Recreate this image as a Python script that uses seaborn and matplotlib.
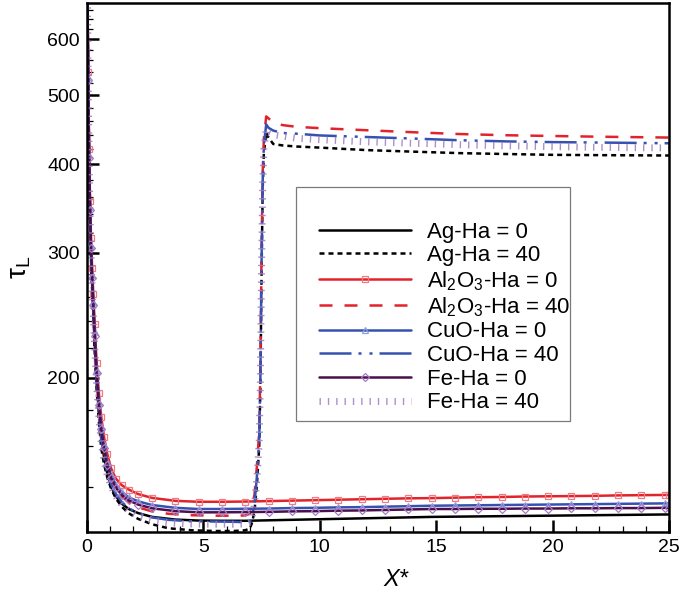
import matplotlib
matplotlib.use("Agg")
import matplotlib.pyplot as plt
import seaborn as sns
from matplotlib.ticker import FixedLocator, MultipleLocator, NullFormatter, FuncFormatter
from matplotlib.patches import Rectangle

# ---------------- data ----------------
x_ha0 = [0.0, 0.03, 0.06, 0.1, 0.14, 0.18, 0.23, 0.28, 0.34, 0.42,
         0.52, 0.62, 0.74, 0.88, 1.04, 1.25, 1.5, 1.8, 2.2, 2.8,
         3.8, 4.8, 5.8, 6.8, 7.8, 8.8, 9.8, 10.8, 11.8, 12.8,
         13.8, 14.8, 15.8, 16.8, 17.8, 18.8, 19.8, 20.8, 21.8, 22.8,
         23.8, 24.8, 25.0]
ag_ha0 = [1000, 680, 515, 400, 338, 298, 270, 247, 223, 198,
          178, 164, 154.5, 146.5, 140.5, 136, 132.8, 130.5, 128.8, 127.2,
          126.1, 125.7, 125.6, 125.6, 125.8, 126.0, 126.2, 126.4, 126.6, 126.8,
          127.0, 127.2, 127.3, 127.4, 127.5, 127.6, 127.7, 127.8, 127.9, 128.0,
          128.1, 128.2, 128.2]
al2o3_ha0 = [1000, 700, 540, 420, 355, 315, 285, 262, 238, 210,
             190, 176, 165, 156, 149, 144, 141, 139, 137, 135.3,
             134.0, 133.6, 133.6, 133.7, 133.9, 134.1, 134.3, 134.5, 134.7, 134.9,
             135.1, 135.2, 135.4, 135.6, 135.7, 135.9, 136.0, 136.1, 136.2, 136.4,
             136.5, 136.6, 136.6]
cuo_ha0 = [1000, 690, 530, 412, 348, 308, 279, 256, 232, 205,
           185, 171, 161, 152, 146, 141, 138, 135.5, 133.8, 132.2,
           131.0, 130.5, 130.5, 130.6, 130.7, 130.9, 131.0, 131.2, 131.3, 131.5,
           131.7, 131.9, 132.0, 132.1, 132.2, 132.3, 132.4, 132.5, 132.6, 132.7,
           132.8, 132.9, 132.9]
fe_ha0 = [1000, 685, 525, 408, 345, 305, 276, 253, 229, 203,
          183, 169, 159, 150.5, 144.5, 139.8, 136.6, 134.2, 132.4, 130.8,
          129.6, 129.1, 129.1, 129.2, 129.3, 129.5, 129.6, 129.8, 129.9, 130.1,
          130.3, 130.5, 130.5, 130.6, 130.6, 130.7, 130.7, 130.8, 130.8, 130.9,
          130.9, 131.0, 131.0]

x_ha40 = [0.0, 0.03, 0.06, 0.1, 0.14, 0.18, 0.23, 0.28, 0.34, 0.42,
          0.52, 0.62, 0.74, 0.88, 1.04, 1.25, 1.5, 1.8, 2.2, 2.8,
          3.5, 4.5, 5.5, 6.3, 6.8, 7.0, 7.1, 7.2, 7.3, 7.4,
          7.45, 7.5, 7.55, 7.6, 7.7, 7.8, 8.0, 8.4, 9.0, 10.0,
          12.0, 14.0, 16.0, 18.0, 20.0, 22.0, 25.0]
ag_ha40 = [1000, 675, 510, 395, 333, 293, 265, 242, 218, 193,
           173, 159, 151, 144.5, 139.5, 135, 131.5, 128.7, 126.4, 124.2,
           122.6, 121.8, 121.5, 121.5, 121.8, 122.5, 125, 130, 141, 160,
           195, 280, 370, 415, 443, 436, 427, 425, 423.5, 422,
           418.6, 416.5, 414.5, 413.3, 412.2, 411.8, 411.3]
al2o3_ha40 = [1000, 690, 525, 408, 345, 305, 276, 253, 229, 202,
              182, 168, 158, 150, 144, 139.5, 136, 133.3, 131.2, 129.5,
              128.5, 127.9, 127.7, 127.7, 127.8, 128.5, 131, 137, 150, 168,
              205, 300, 390, 435, 467, 464, 458, 454, 451.5, 449.5,
              446.5, 443.6, 441, 439.3, 438.2, 437.2, 436]
cuo_ha40 = [1000, 685, 520, 403, 340, 300, 271, 248, 224, 198,
            178, 164, 154.5, 147, 141.5, 137, 133.5, 130.8, 128.8, 127,
            126, 125.4, 125.3, 125.2, 125.0, 125.2, 127.5, 133, 145, 163,
            200, 290, 380, 425, 455, 450, 446, 442.5, 441.5, 439,
            436.8, 434.6, 432.2, 430.6, 429.6, 429, 428]
fe_ha40 = [1000, 680, 515, 400, 337, 297, 268, 245, 221, 196,
           176, 162, 152.5, 145.5, 140.5, 136, 132.5, 129.8, 127.6, 125.8,
           124.8, 124.3, 124.2, 124.2, 124.3, 125, 127.5, 132.5, 144, 162,
           198, 285, 375, 420, 448, 443, 440, 438, 435, 433,
           430, 428, 426, 424.5, 423.3, 422.3, 421.5]

labels = ["Ag-Ha = 0", "Ag-Ha = 40",
          "Al$_2$O$_3$-Ha = 0", "Al$_2$O$_3$-Ha = 40",
          "CuO-Ha = 0", "CuO-Ha = 40",
          "Fe-Ha = 0", "Fe-Ha = 40"]
x_ticks = [0, 5, 10, 15, 20, 25]
y_ticks = [200, 300, 400, 500, 600]

# ---------------- style ----------------
sns.set_theme(style="white")
plt.rcParams["font.family"] = ["Liberation Sans", "DejaVu Sans"]
plt.rcParams["mathtext.default"] = "regular"

RED = "#e2232b"
BLUE = "#3652b0"
PURPLE = "#4b0f4c"
LPURPLE = "#a07cc2"

fig = plt.figure(figsize=(6.85, 5.94), dpi=100)
ax = fig.add_axes([0.1267, 0.1039, 0.8504, 0.8911])
ax.set_yscale("log")

specs = [
    (x_ha0, ag_ha0, dict(color="black", linewidth=1.8), None),
    (x_ha40, ag_ha40, dict(color="black", linewidth=1.8), (2.0, 1.6)),
    (x_ha0, al2o3_ha0, dict(color=RED, linewidth=1.8, marker="s", markersize=4.5,
                            markerfacecolor="none", markeredgecolor="#f07a80",
                            markeredgewidth=0.9), None),
    (x_ha40, al2o3_ha40, dict(color=RED, linewidth=1.8), (5.2, 4.8)),
    (x_ha0, cuo_ha0, dict(color=BLUE, linewidth=1.8, marker="^", markersize=4.5,
                          markerfacecolor="none", markeredgecolor="#8f9fe0",
                          markeredgewidth=0.9), None),
    (x_ha40, cuo_ha40, dict(color=BLUE, linewidth=1.8), (12.8, 2.8, 1.2, 3.2, 1.2, 2.8)),
    (x_ha0, fe_ha0, dict(color=PURPLE, linewidth=1.8, marker="D", markersize=3.8,
                         markerfacecolor="none", markeredgecolor="#a57cc8",
                         markeredgewidth=0.9), None),
    (x_ha40, fe_ha40, dict(color=LPURPLE, linewidth=5.0, alpha=0.85), (0.2, 1.0)),
]

handles = []
for (xs, ys, kw, dash), lab in zip(specs, labels):
    n_before = len(ax.lines)
    sns.lineplot(x=xs, y=ys, ax=ax, estimator=None, sort=False, legend=False, **kw)
    line = ax.lines[n_before]
    if dash is not None:
        line.set_dashes(dash)
        line.set_dash_capstyle("butt")
    line.set_label(lab)
    handles.append(line)

ax.set_xlim(0, 25)
ax.set_ylim(121, 675)

ax.xaxis.set_major_locator(FixedLocator(x_ticks))
ax.xaxis.set_minor_locator(MultipleLocator(1))
ax.yaxis.set_major_locator(FixedLocator(y_ticks))
ax.yaxis.set_minor_locator(FixedLocator([v for v in range(140, 680, 20) if v % 100 != 0]))
ax.yaxis.set_major_formatter(FuncFormatter(lambda v, p: f"{v:.0f}"))
ax.yaxis.set_minor_formatter(NullFormatter())

ax.tick_params(axis="both", which="major", direction="in", length=8.6, width=1.8,
               labelsize=14, pad=5, left=True, bottom=True, top=False, right=False,
               colors="black")
ax.tick_params(axis="both", which="minor", direction="in", length=4.3, width=0.9,
               left=True, bottom=True, top=False, right=False, colors="black")
for sp in ax.spines.values():
    sp.set_visible(True)
    sp.set_color("black")
    sp.set_linewidth(1.8)

ax.set_xlabel("X*", fontsize=17, style="italic", labelpad=5, color="black")
ax.xaxis.set_label_coords(0.53, -0.068)
ax.set_ylabel(r"$\tau_{\mathregular{L}}$", fontsize=20, labelpad=10, color="black")

# legend frame + legend
ax.add_patch(Rectangle((0.360, 0.210), 0.4695, 0.442, transform=ax.transAxes,
                       fill=False, edgecolor="#7a7a7a", linewidth=0.9, zorder=5))
leg = ax.legend(handles=handles, labels=labels, loc="upper left",
                bbox_to_anchor=(0.399, 0.587), frameon=False, fontsize=16,
                handlelength=4.15, handletextpad=0.68, labelspacing=0.12,
                borderpad=0, borderaxespad=0, numpoints=1)
for t in leg.get_texts():
    t.set_color("black")

fig.savefig("out.png", dpi=100)
